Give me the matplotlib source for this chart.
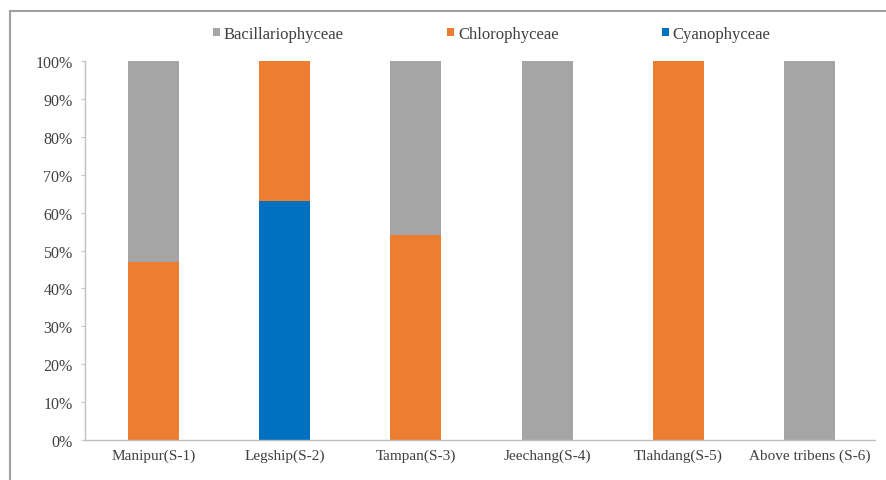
import matplotlib
matplotlib.use("Agg")
import matplotlib.pyplot as plt
import numpy as np
from matplotlib.patches import Rectangle
from matplotlib.ticker import PercentFormatter

stations = ["Manipur(S-1)", "Legship(S-2)", "Tampan(S-3)",
            "Jeechang(S-4)", "Tlahdang(S-5)", "Above tribens (S-6)"]
cyanophyceae = [0, 63, 0, 0, 0, 0]
chlorophyceae = [47, 37, 54, 0, 100, 0]
bacillariophyceae = [53, 0, 46, 100, 0, 100]
yticks = list(range(0, 101, 10))

plt.rcParams["font.family"] = ["Liberation Serif", "DejaVu Serif"]

fig = plt.figure(figsize=(8.86, 4.81), dpi=100)
ax = fig.add_axes([0.096, 0.083, 0.892, 0.788])

x = np.arange(len(stations))
w = 0.39
cy = np.array(cyanophyceae, dtype=float)
ch = np.array(chlorophyceae, dtype=float)
ba = np.array(bacillariophyceae, dtype=float)

ax.bar(x, cy, w, color="#0070C0", label="Cyanophyceae", zorder=2)
ax.bar(x, ch, w, bottom=cy, color="#ED7D31", label="Chlorophyceae", zorder=2)
ax.bar(x, ba, w, bottom=cy + ch, color="#A5A5A5", label="Bacillariophyceae", zorder=2)

ax.set_xlim(-0.52, len(stations) - 0.5)
ax.set_ylim(0, 100)
ax.set_yticks(yticks)
ax.yaxis.set_major_formatter(PercentFormatter(decimals=0))
ax.set_xticks(x)
ax.set_xticklabels(stations, fontsize=11, color="#404040")
ax.tick_params(axis="y", labelsize=11.5, labelcolor="#404040", length=3, pad=6, color="#C8C8C8")
ax.tick_params(axis="x", length=0, pad=6)

for side in ("top", "right"):
    ax.spines[side].set_visible(False)
for side in ("left", "bottom"):
    ax.spines[side].set_color("#BFBFBF")
    ax.spines[side].set_linewidth(1.0)

# legend in reverse stacking order, spread across the top
handles, labels = ax.get_legend_handles_labels()
order = [2, 1, 0]
fig.legend([handles[i] for i in order], [labels[i] for i in order],
           loc="center", bbox_to_anchor=(0.555, 0.927), ncol=3, frameon=False,
           fontsize=12, handlelength=0.4, handleheight=0.4, handletextpad=0.25,
           columnspacing=6.2, labelcolor="#404040")

# outer chart frame
fig.patches.append(Rectangle((0.011, -0.01), 1.0, 0.985, transform=fig.transFigure,
                             fill=False, edgecolor="#A0A0A0", linewidth=1.5))

fig.savefig("out.png", dpi=100)
